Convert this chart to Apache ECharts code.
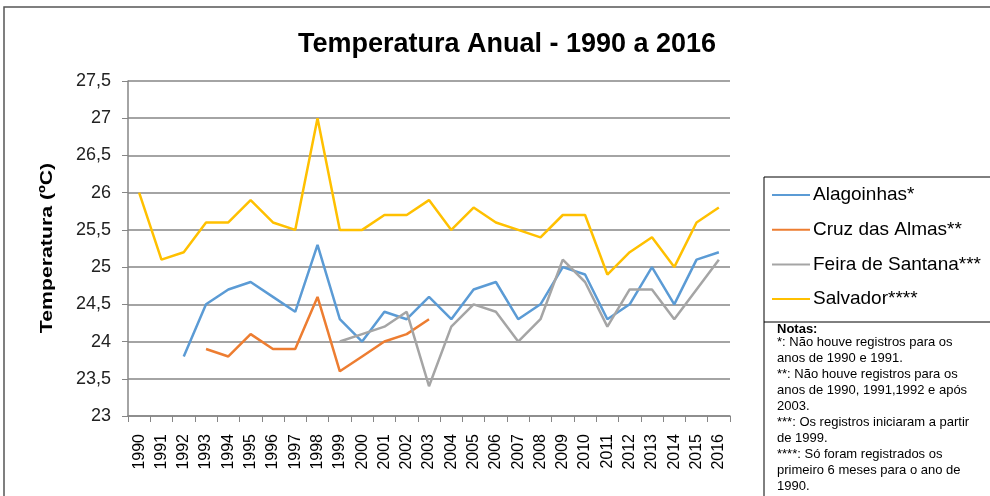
<!DOCTYPE html>
<html>
<head>
<meta charset="utf-8">
<script src="https://cdn.jsdelivr.net/npm/echarts@6/dist/echarts.min.js"></script>
<style>
  html, body { margin: 0; padding: 0; background: #fff; }
  #chart { width: 990px; height: 496px; }
</style>
</head>
<body>
<div id="chart"></div>
<script>
// dados
var anos = ['1990','1991','1992','1993','1994','1995','1996','1997','1998','1999','2000','2001','2002','2003','2004','2005','2006','2007','2008','2009','2010','2011','2012','2013','2014','2015','2016'];
var alagoinhas = [null, null, 23.8, 24.5, 24.7, 24.8, 24.6, 24.4, 25.3, 24.3, 24.0, 24.4, 24.3, 24.6, 24.3, 24.7, 24.8, 24.3, 24.5, 25.0, 24.9, 24.3, 24.5, 25.0, 24.5, 25.1, 25.2];
var cruzDasAlmas = [null, null, null, 23.9, 23.8, 24.1, 23.9, 23.9, 24.6, 23.6, 23.8, 24.0, 24.1, 24.3, null, null, null, null, null, null, null, null, null, null, null, null, null];
var feiraDeSantana = [null, null, null, null, null, null, null, null, null, 24.0, 24.1, 24.2, 24.4, 23.4, 24.2, 24.5, 24.4, 24.0, 24.3, 25.1, 24.8, 24.2, 24.7, 24.7, 24.3, 24.7, 25.1];
var salvador = [26.0, 25.1, 25.2, 25.6, 25.6, 25.9, 25.6, 25.5, 27.0, 25.5, 25.5, 25.7, 25.7, 25.9, 25.5, 25.8, 25.6, 25.5, 25.4, 25.7, 25.7, 24.9, 25.2, 25.4, 25.0, 25.6, 25.8];

var nomes = ['Alagoinhas*', 'Cruz das Almas**', 'Feira de Santana***', 'Salvador****'];
var cores = ['#5B9BD5', '#ED7D31', '#A5A5A5', '#FFC000'];
var notas = [
  '*: Não houve registros para os',
  'anos de 1990 e 1991.',
  '**: Não houve registros para os',
  'anos de 1990, 1991,1992 e após',
  '2003.',
  '***: Os registros iniciaram a partir',
  'de 1999.',
  '****: Só foram registrados os',
  'primeiro 6 meses para o ano de',
  '1990.'
];

var myChart = echarts.init(document.getElementById('chart'));

function serie(i, dados) {
  return {
    name: nomes[i],
    type: 'line',
    data: dados,
    symbol: 'none',
    connectNulls: false,
    lineStyle: { color: cores[i], width: 2.5 },
    itemStyle: { color: cores[i] }
  };
}

var option = {
  backgroundColor: '#fff',
  animation: false,
  title: {
    text: 'Temperatura Anual - 1990 a 2016',
    left: 502,
    textAlign: 'center',
    top: 26,
    textStyle: { fontFamily: 'Liberation Sans, Arial', fontWeight: 'bold', fontSize: 27, color: '#000' }
  },
  grid: { left: 128, right: 260, top: 81, bottom: 80, containLabel: false },
  legend: {
    orient: 'vertical',
    left: 772,
    top: 185,
    padding: 0,
    itemGap: 14.7,
    itemWidth: 38,
    itemHeight: 2,
    icon: 'rect',
    data: nomes,
    textStyle: { fontFamily: 'Liberation Sans, Arial', fontSize: 19, lineHeight: 20, color: '#000', padding: [0, 0, 0, -2] }
  },
  xAxis: {
    type: 'category',
    data: anos,
    boundaryGap: true,
    axisLine: { lineStyle: { color: '#868686', width: 1.5 } },
    axisTick: { show: true, length: 6, lineStyle: { color: '#868686' } },
    axisLabel: { rotate: 90, fontFamily: 'Liberation Sans, Arial', fontSize: 16, color: '#000', margin: 18, interval: 0 }
  },
  yAxis: {
    type: 'value',
    min: 23,
    max: 27.5,
    interval: 0.5,
    axisLine: { show: true, lineStyle: { color: '#868686', width: 1.5 } },
    axisTick: { show: true, length: 6, lineStyle: { color: '#868686' } },
    splitLine: { lineStyle: { color: '#868686', width: 1.5 } },
    axisLabel: {
      fontFamily: 'Liberation Sans, Arial', fontSize: 18, color: '#222', margin: 17,
      formatter: function (v) { return String(v).replace('.', ','); }
    }
  },
  graphic: [
    { type: 'rect', shape: { x: 4, y: 7, width: 1000, height: 500 }, style: { fill: 'none', stroke: '#555', lineWidth: 1.5 }, silent: true },
    { type: 'rect', shape: { x: 764, y: 177, width: 240, height: 330 }, style: { fill: 'none', stroke: '#000', lineWidth: 1 }, silent: true },
    { type: 'line', shape: { x1: 764, y1: 322, x2: 1000, y2: 322 }, style: { stroke: '#000', lineWidth: 1 }, silent: true },
    {
      type: 'text', x: 47, y: 248, rotation: Math.PI / 2, scaleX: 1.25,
      style: { text: 'Temperatura (ºC)', font: 'bold 17px Liberation Sans, Arial', fill: '#000', align: 'center', verticalAlign: 'middle' },
      silent: true
    },
    { type: 'text', left: 777, top: 323, style: { text: 'Notas:', font: 'bold 13px Liberation Sans, Arial', fill: '#000' } },
    { type: 'text', left: 777, top: 334, style: { text: notas.join('\n'), font: '13px Liberation Sans, Arial', lineHeight: 16, fill: '#000' } }
  ],
  series: [
    serie(0, alagoinhas),
    serie(1, cruzDasAlmas),
    serie(2, feiraDeSantana),
    serie(3, salvador)
  ]
};
myChart.setOption(option);
</script>
</body>
</html>
